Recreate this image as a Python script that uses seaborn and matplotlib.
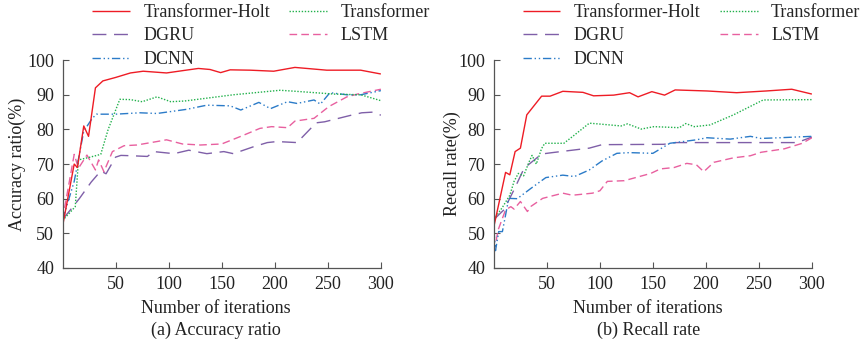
import numpy as np
import pandas as pd
import matplotlib
matplotlib.use("Agg")
import matplotlib.pyplot as plt
import seaborn as sns

# ---------------- data: (a) Accuracy ratio ----------------
th_a_x = [0, 11, 14, 20, 24.5, 31, 38, 50, 64, 76, 98, 114, 128, 139, 149, 158, 177, 199, 219, 249, 281, 300]
th_a_y = [52, 70, 69, 81, 78, 92, 94, 95, 96.3, 96.8, 96.3, 97, 97.6, 97.3, 96.4, 97.2, 97.1, 96.8, 97.9, 97.1, 97.1, 96]

tr_a_x = [0, 12, 15, 26, 36, 43, 54, 64, 75, 89, 102, 115, 161, 205, 220, 256, 281, 300]
tr_a_y = [53.7, 57.7, 71.2, 72, 72.8, 80, 88.7, 88.6, 88, 89.4, 88, 88.2, 90, 91.3, 91, 90.2, 90, 88.3]

dgru_a_x = [0, 8, 16, 27, 36, 41, 50, 55, 65, 80, 86, 105, 119, 136, 152, 161, 180, 193, 202, 221, 239, 247, 272, 282, 293, 300]
dgru_a_y = [54, 57, 60.1, 64.8, 68, 67.2, 72, 72.5, 72.4, 72.2, 73.6, 73, 74, 73, 73.6, 73, 75, 76.2, 76.5, 76.2, 81.9, 82.2, 84.1, 84.8, 85, 84.1]

lstm_a_x = [0, 11, 15, 23, 31, 34, 39, 47, 58, 70, 89, 98, 113, 130, 150, 168, 186, 197, 212, 219, 237, 251, 268, 278, 300]
lstm_a_y = [54, 72.8, 68.8, 72.6, 68.3, 71.2, 67.8, 73.6, 75.3, 75.5, 76.5, 77, 75.8, 75.5, 75.8, 78, 80.3, 80.8, 80.5, 82.4, 83.2, 86.6, 89.4, 90.2, 91.6]

dcnn_a_x = [0, 11, 20, 28, 32, 50, 73, 89, 117, 136, 158, 168, 185, 196, 212, 221, 237, 243, 252, 268, 281, 300]
dcnn_a_y = [53.9, 65, 79.5, 83.2, 84.4, 84.4, 84.8, 84.6, 85.8, 87, 86.8, 85.6, 87.8, 86, 88, 87.5, 88.5, 87.3, 90.6, 90, 90, 91.2]

# ---------------- data: (b) Recall rate ----------------
th_b_x = [0, 11, 15, 20, 25, 31, 45, 53, 65, 84, 94, 113, 128, 136, 149, 161, 171, 201, 229, 257, 281, 300]
th_b_y = [52, 67.6, 66.9, 73.6, 74.6, 84.2, 89.6, 89.6, 91, 90.7, 89.7, 89.9, 90.6, 89.4, 90.9, 89.9, 91.4, 91.1, 90.6, 91.1, 91.6, 90.2]

tr_b_x = [0, 8, 15, 19, 23, 28, 33, 36, 40, 45, 48, 66, 74, 90, 98, 120, 126, 139, 151, 175, 181, 189, 204, 226, 254, 300]
tr_b_y = [54, 57.5, 61, 65, 67.3, 66.6, 70.5, 72.5, 70, 74.5, 76, 76, 77.9, 81.8, 81.6, 81, 81.6, 80.1, 80.8, 80.5, 81.7, 80.8, 81.3, 84.2, 88.5, 88.6]

dgru_b_x = [0, 9.5, 19, 28.5, 45, 55, 90, 102, 160, 172, 286, 300]
dgru_b_y = [54, 56.8, 62.6, 68.8, 72.9, 73.3, 74.6, 75.6, 75.7, 76.2, 76.2, 77.8]

lstm_b_x = [0, 4, 11, 16, 19, 25, 31.6, 35, 46, 65, 74, 93, 100, 107, 123, 148, 157, 170, 182, 191, 198, 207.5, 226, 242, 252, 274, 291, 300]
lstm_b_y = [44.5, 51, 56.8, 57.7, 57, 59.2, 56.3, 57.8, 60.1, 61.6, 61, 61.6, 62.3, 65, 65.2, 67.3, 68.6, 69, 70.2, 69.8, 67.8, 70.5, 71.8, 72.4, 73.4, 74.4, 76, 77.6]

dcnn_b_x = [0, 1.5, 4.5, 8, 14, 22, 35, 49, 65, 76, 90, 102, 116, 128, 150, 166, 191, 201, 223, 242, 252, 270, 300]
dcnn_b_y = [51, 45, 50.5, 50.5, 60.1, 60, 63, 66.1, 66.8, 66.4, 68.3, 70.9, 73.1, 73.3, 73.1, 76, 77, 77.6, 77.2, 78, 77.4, 77.6, 78]

x_ticks = [50, 100, 150, 200, 250, 300]
y_ticks = [40, 50, 60, 70, 80, 90, 100]

labels = ["Transformer-Holt", "Transformer", "DGRU", "LSTM", "DCNN"]
colors = {"Transformer-Holt": "#ee1c25", "Transformer": "#22b14c", "DGRU": "#7f5fa8",
          "LSTM": "#e8609f", "DCNN": "#2b7bc8"}
styles = {"Transformer-Holt": (0, ()), "Transformer": (0, (1, 1.2)), "DGRU": (0, (10, 5.5)),
          "LSTM": (0, (5.5, 3)), "DCNN": (0, (6, 2, 1, 2, 1, 2))}

sns.set_style("ticks", {"xtick.direction": "in", "ytick.direction": "in"})
plt.rcParams["font.family"] = ["Liberation Serif", "DejaVu Serif"]
plt.rcParams["font.size"] = 13

fig = plt.figure(figsize=(8.65, 3.47), dpi=100)
ax1 = fig.add_axes([0.0723, 0.2277, 0.368, 0.599])
ax2 = fig.add_axes([0.571, 0.2277, 0.3676, 0.599])

series_a = {"Transformer-Holt": (th_a_x, th_a_y), "Transformer": (tr_a_x, tr_a_y),
            "DGRU": (dgru_a_x, dgru_a_y), "LSTM": (lstm_a_x, lstm_a_y), "DCNN": (dcnn_a_x, dcnn_a_y)}
series_b = {"Transformer-Holt": (th_b_x, th_b_y), "Transformer": (tr_b_x, tr_b_y),
            "DGRU": (dgru_b_x, dgru_b_y), "LSTM": (lstm_b_x, lstm_b_y), "DCNN": (dcnn_b_x, dcnn_b_y)}

draw_order = ["DGRU", "LSTM", "DCNN", "Transformer", "Transformer-Holt"]
legend_order = ["Transformer-Holt", "DGRU", "DCNN", "Transformer", "LSTM"]


def draw(ax, series, ylabel, sub, lx, sx):
    handles = {}
    for name in draw_order:
        xs, ys = series[name]
        df = pd.DataFrame({"x": xs, "y": ys})
        sns.lineplot(data=df, x="x", y="y", ax=ax, color=colors[name], sort=False,
                     linewidth=1.0, label=name, legend=False)
        ln = ax.lines[-1]
        ln.set_linestyle(styles[name])
        handles[name] = ln
    ax.set_xlim(0, 300)
    ax.set_ylim(40, 100)
    ax.set_xticks(x_ticks)
    ax.set_yticks(y_ticks)
    ax.tick_params(axis="both", direction="in", length=4, width=0.8, colors="#555555",
                   labelcolor="#222222", labelsize=13, pad=6)
    for s in ["left", "bottom"]:
        ax.spines[s].set_color("#555555")
        ax.spines[s].set_linewidth(0.9)
    sns.despine(ax=ax)
    ax.set_xlabel("Number of iterations", fontsize=13, color="#222222")
    ax.set_ylabel(ylabel, fontsize=13, color="#222222")
    ax.xaxis.set_label_coords(lx, -0.155)
    ax.text(sx, -0.26, sub, transform=ax.transAxes, ha="center", va="top", fontsize=13,
            color="#222222")
    return handles


h1 = draw(ax1, series_a, "Accuracy ratio(%)", "(a) Accuracy ratio", 0.48, 0.482)
h2 = draw(ax2, series_b, "Recall rate(%)", "(b) Recall rate", 0.485, 0.485)
ax1.yaxis.set_label_coords(-0.115, 0.5)
ax2.yaxis.set_label_coords(-0.105, 0.5)

for h, x0 in [(h1, 0.104), (h2, 0.602)]:
    fig.legend([h[n] for n in legend_order], legend_order, loc="upper left",
               bbox_to_anchor=(x0, 0.994), ncol=2, frameon=False, fontsize=13,
               handlelength=2.1, handletextpad=0.75, columnspacing=1.05,
               labelspacing=0.36, borderpad=0.1, borderaxespad=0)

fig.savefig("out.png", dpi=100)
